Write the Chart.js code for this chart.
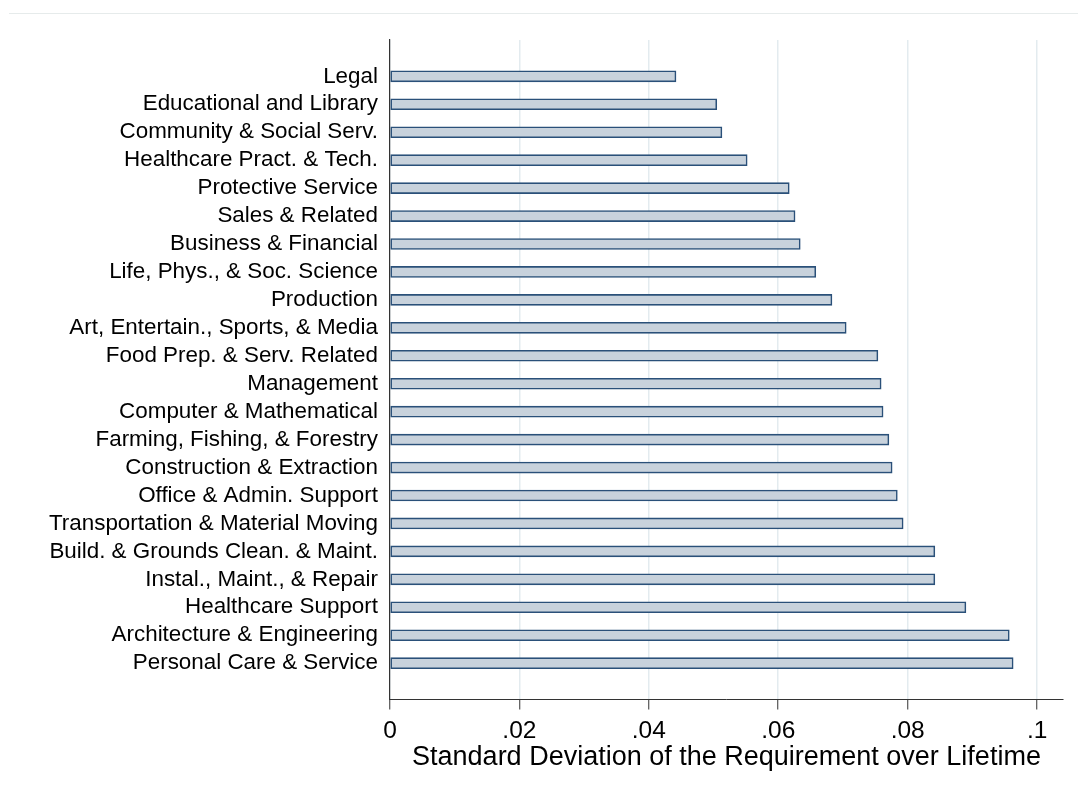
<!DOCTYPE html>
<html>
<head>
<meta charset="utf-8">
<script src="https://cdn.jsdelivr.net/npm/chart.js@4/dist/chart.umd.min.js"></script>
<style>
  body { margin: 0; background: #fff; }
  #wrap { position: relative; width: 1078px; height: 794px; }
  #topline { position: absolute; top: 13px; left: 9px; right: 0; height: 1px; background: #e6ebeb; }
</style>
</head>
<body>
<div id="wrap">
  <div id="topline"></div>
  <canvas id="myChart"></canvas>
</div>
<script>
// occupations, top to bottom
var occupations = [
  "Legal",
  "Educational and Library",
  "Community & Social Serv.",
  "Healthcare Pract. & Tech.",
  "Protective Service",
  "Sales & Related",
  "Business & Financial",
  "Life, Phys., & Soc. Science",
  "Production",
  "Art, Entertain., Sports, & Media",
  "Food Prep. & Serv. Related",
  "Management",
  "Computer & Mathematical",
  "Farming, Fishing, & Forestry",
  "Construction & Extraction",
  "Office & Admin. Support",
  "Transportation & Material Moving",
  "Build. & Grounds Clean. & Maint.",
  "Instal., Maint., & Repair",
  "Healthcare Support",
  "Architecture & Engineering",
  "Personal Care & Service"
]

// std dev of the requirement over lifetime
var sdValues = [
  0.0442, 0.0505, 0.0513, 0.0552, 0.0617, 0.0626, 0.0634, 0.0658,
  0.0683, 0.0705, 0.0754, 0.0759, 0.0762, 0.0771, 0.0776, 0.0784,
  0.0793, 0.0842, 0.0842, 0.0890, 0.0957, 0.0963
]

var xTicks = [0, 0.02, 0.04, 0.06, 0.08, 0.1]
var xTitle = "Standard Deviation of the Requirement over Lifetime"

var points = []
for (var i = 0; i < sdValues.length; i++) {
    points.push({x: sdValues[i], y: i})
}

function fmtTick(v) {
    if (v === 0) return "0"
    return v.toFixed(2).replace(/^0/, "").replace(/0$/, "")
}

Chart.defaults.font.family = "'Liberation Sans', Arial, sans-serif"
Chart.defaults.color = "#000"

var ctx = document.getElementById("myChart").getContext("2d")

var chart = new Chart(ctx, {
    type: "bar",
    data: {
        datasets: [{
            data: points,
            backgroundColor: "#c8d2dc",
            borderColor: "#2a5079",
            borderWidth: 1.6,
            borderSkipped: false,
            barThickness: 11
        }]
    },
    options: {
        indexAxis: "y",
        responsive: true,
        maintainAspectRatio: false,
        animation: false,
        layout: {
            padding: {left: 37, top: 40, right: 15, bottom: 22.5}
        },
        plugins: {
            legend: {display: false},
            tooltip: {enabled: false}
        },
        scales: {
            x: {
                type: "linear",
                min: 0,
                max: 0.104,
                afterBuildTicks: function(scale) {
                    scale.ticks = xTicks.map(function(v){ return {value: v} })
                },
                ticks: {
                    stepSize: 0.02,
                    includeBounds: false,
                    padding: 9,
                    font: {size: 24.5, lineHeight: 1},
                    callback: function(v) { return fmtTick(v) }
                },
                grid: {
                    color: "#e3ebef",
                    lineWidth: 1.5,
                    tickColor: "#333",
                    tickLength: 10,
                    tickWidth: 1
                },
                border: {color: "#333", width: 1},
                title: {
                    display: true,
                    text: xTitle,
                    font: {size: 27, lineHeight: 1},
                    padding: {top: -7.5, bottom: 0}
                }
            },
            y: {
                type: "linear",
                reverse: true,
                offset: false,
                min: -1.3,
                max: 22.3,
                ticks: {
                    stepSize: 1,
                    includeBounds: false,
                    autoSkip: false,
                    padding: 12,
                    font: {size: 22.4},
                    callback: function(v) {
                        return occupations[v] !== undefined ? occupations[v] : ""
                    }
                },
                grid: {drawOnChartArea: false, drawTicks: false},
                border: {color: "#333", width: 1.2}
            }
        }
    }
})
</script>
</body>
</html>
